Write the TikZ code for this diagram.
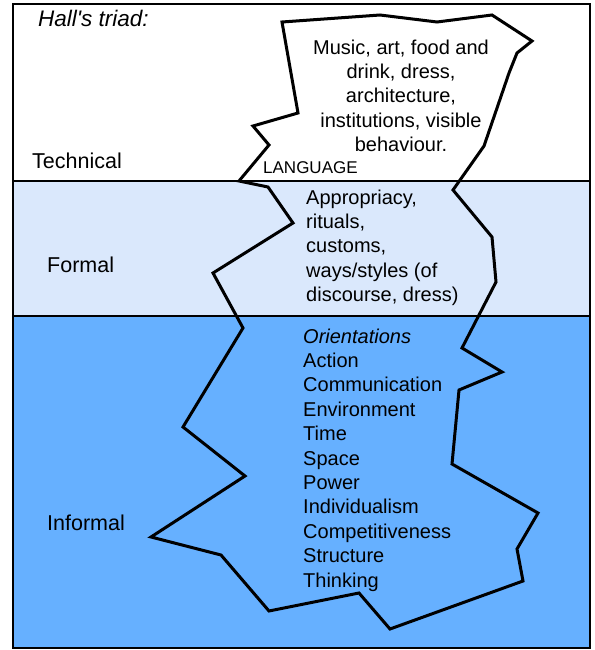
\documentclass[tikz,border=0pt]{standalone}
\usepackage{fontspec}
\setmainfont{Liberation Sans}
\definecolor{formalblue}{RGB}{218,232,252}
\definecolor{informalblue}{RGB}{102,176,255}
\tikzset{
  band/.style={line width=2.5pt},
  berg/.style={line width=3pt, line join=miter},
  lbl/.style={anchor=base west, inner sep=0pt, font=\fontsize{21.5}{24}\selectfont},
  body/.style={inner sep=0pt, font=\fontsize{20}{24.4}\selectfont},
}
\begin{document}
\begin{tikzpicture}[x=1pt,y=-1pt]
\useasboundingbox (0,0) rectangle (594,650);
% bands
\fill[white] (13,4) rectangle (590,181);
\fill[formalblue] (13,181) rectangle (590,316);
\fill[informalblue] (13,316) rectangle (590,648);
% iceberg
\draw[berg] (282,22) -- (380,15) -- (437,22) -- (492,15) -- (532,41) -- (517,53) -- (509,73)
  -- (484,146) -- (453,190) -- (492,237) -- (496,282) -- (462,348) -- (502,372) -- (459,390)
  -- (452,464) -- (538,513) -- (517,549) -- (523,581) -- (390,629) -- (359,593) -- (269,611)
  -- (221,555) -- (151,537) -- (245,476) -- (183,427) -- (243,328) -- (213,273) -- (293,223)
  -- (268,187) -- (239,181) -- (269,145) -- (253,126) -- (298,113) -- cycle;
% dividers and frame
\draw[band] (13,181) -- (590,181);
\draw[band] (13,316) -- (590,316);
\draw[band] (13,4) rectangle (590,648);
% labels
\node[lbl, font=\fontsize{22.5}{24}\selectfont\itshape] (hall) at (38,27) {Hall\textquotesingle s triad:};
\node[lbl] (tech) at (32,168) {Technical};
\node[lbl] (formal) at (47,272) {Formal};
\node[lbl] (informal) at (47,530) {Informal};
\node[anchor=base west, inner sep=0pt, font=\fontsize{17}{18}\selectfont] (lang) at (263,173) {LANGUAGE};
% contents
\node[body, align=center, anchor=north] (techtext) at (401,39.5)
  {Music, art, food and\\drink, dress,\\architecture,\\institutions, visible\\behaviour.};
\node[body, align=left, anchor=north west] (formtext) at (306,189.5)
  {Appropriacy,\\rituals,\\customs,\\ways/styles (of\\discourse, dress)};
\node[body, align=left, anchor=north west] (inftext) at (303,328.5)
  {\textit{Orientations}\\Action\\Communication\\Environment\\Time\\Space\\Power\\Individualism\\Competitiveness\\Structure\\Thinking};
\end{tikzpicture}
\end{document}
